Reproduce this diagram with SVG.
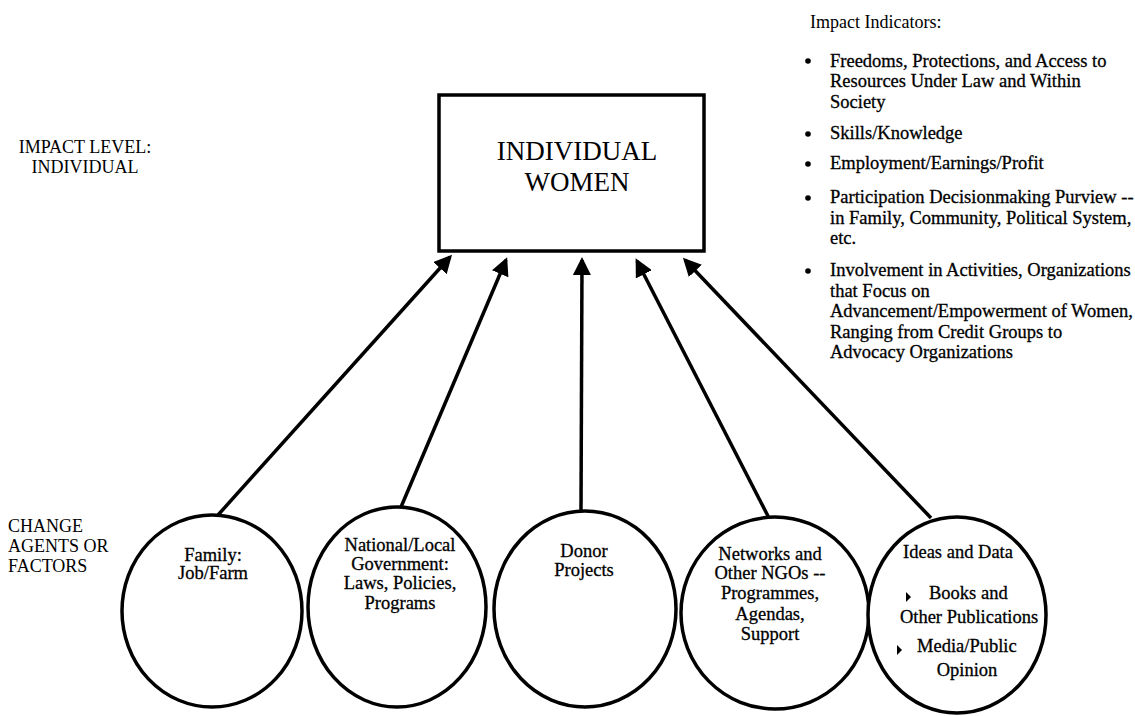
<svg xmlns="http://www.w3.org/2000/svg" width="1135" height="716" viewBox="0 0 1135 716">
<style>
text{font-family:"Liberation Serif","Times New Roman",serif;fill:#000}
.lbl{font-size:18px}
.ind{font-size:18.5px;stroke:#000;stroke-width:0.3}
.ct{font-size:18.5px;text-anchor:middle;stroke:#000;stroke-width:0.3}
.node{fill:#fff;stroke:#000;stroke-width:3.5}
.conn{stroke:#000;stroke-width:3.5;fill:none;marker-end:url(#ah)}
</style>
<defs>
<marker id="ah" markerUnits="userSpaceOnUse" markerWidth="20" markerHeight="18" refX="15" refY="9" orient="auto">
<path d="M0,0 L18,9 L0,18 z" fill="#000"/>
</marker>
</defs>
<rect width="1135" height="716" fill="#fff"/>

<g id="label-impact-level">
<text class="lbl" x="85" y="153" text-anchor="middle">IMPACT LEVEL:</text>
<text class="lbl" x="85" y="173" text-anchor="middle">INDIVIDUAL</text>
</g>
<g id="label-change-agents">
<text class="lbl" x="8" y="532">CHANGE</text>
<text class="lbl" x="8" y="552">AGENTS OR</text>
<text class="lbl" x="8" y="572">FACTORS</text>
</g>

<g id="impact-indicators">
<text class="lbl" x="810" y="28">Impact Indicators:</text>
<g fill="#000">
<circle cx="808" cy="61" r="2.8"/>
<circle cx="808" cy="134" r="2.8"/>
<circle cx="808" cy="164" r="2.8"/>
<circle cx="808" cy="198" r="2.8"/>
<circle cx="808" cy="271" r="2.8"/>
</g>
<text class="ind" x="830" y="67">Freedoms, Protections, and Access to</text>
<text class="ind" x="830" y="87">Resources Under Law and Within</text>
<text class="ind" x="830" y="108">Society</text>
<text class="ind" x="830" y="139">Skills/Knowledge</text>
<text class="ind" x="830" y="169">Employment/Earnings/Profit</text>
<text class="ind" x="830" y="203">Participation Decisionmaking Purview --</text>
<text class="ind" x="830" y="224">in Family, Community, Political System,</text>
<text class="ind" x="830" y="244">etc.</text>
<text class="ind" x="830" y="276">Involvement in Activities, Organizations</text>
<text class="ind" x="830" y="297">that Focus on</text>
<text class="ind" x="830" y="317">Advancement/Empowerment of Women,</text>
<text class="ind" x="830" y="338">Ranging from Credit Groups to</text>
<text class="ind" x="830" y="358">Advocacy Organizations</text>
</g>

<g id="connectors">
<line class="conn" x1="218" y1="515" x2="450" y2="257"/>
<line class="conn" x1="401" y1="507" x2="506" y2="260"/>
<line class="conn" x1="581" y1="512" x2="582" y2="260"/>
<line class="conn" x1="769" y1="518" x2="637" y2="261"/>
<line class="conn" x1="931" y1="518" x2="685" y2="260"/>
</g>

<g id="node-individual-women">
<rect class="node" x="439" y="95" width="265" height="156"/>
<text x="577" y="160" text-anchor="middle" font-size="27">INDIVIDUAL</text>
<text x="577" y="191" text-anchor="middle" font-size="27">WOMEN</text>
</g>

<g id="node-family">
<ellipse class="node" cx="212" cy="611" rx="90" ry="96"/>
<text class="ct" x="213" y="561">Family:</text>
<text class="ct" x="213" y="579">Job/Farm</text>
</g>

<g id="node-government">
<ellipse class="node" cx="397" cy="607" rx="89" ry="100"/>
<text class="ct" x="400" y="551">National/Local</text>
<text class="ct" x="400" y="570">Government:</text>
<text class="ct" x="400" y="589">Laws, Policies,</text>
<text class="ct" x="400" y="609">Programs</text>
</g>

<g id="node-donor">
<ellipse class="node" cx="585" cy="609" rx="91" ry="98"/>
<text class="ct" x="584" y="557">Donor</text>
<text class="ct" x="584" y="576">Projects</text>
</g>

<g id="node-networks">
<ellipse class="node" cx="775" cy="613" rx="94" ry="96"/>
<text class="ct" x="770" y="560">Networks and</text>
<text class="ct" x="770" y="579">Other NGOs --</text>
<text class="ct" x="770" y="599">Programmes,</text>
<text class="ct" x="770" y="620">Agendas,</text>
<text class="ct" x="770" y="640">Support</text>
</g>

<g id="node-ideas">
<ellipse class="node" cx="957" cy="615" rx="89" ry="98"/>
<text class="ct" x="958" y="558">Ideas and Data</text>
<polygon points="906,592 911,597 906,602" fill="#000"/>
<text class="ind" x="929" y="599">Books and</text>
<text class="ct" x="969" y="623">Other Publications</text>
<polygon points="897,645 902,650 897,655" fill="#000"/>
<text class="ind" x="917" y="652">Media/Public</text>
<text class="ct" x="967" y="676">Opinion</text>
</g>
</svg>
